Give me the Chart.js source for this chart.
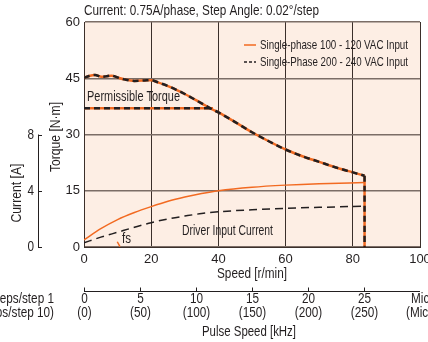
<!DOCTYPE html>
<html>
<head>
<meta charset="utf-8">
<script src="https://cdn.jsdelivr.net/npm/chart.js@4/dist/chart.umd.min.js"></script>
<style>
  html, body { margin: 0; padding: 0; background: #fff; }
  #wrap { width: 428px; height: 342px; }
</style>
</head>
<body>
<div id="wrap"><canvas id="chart" width="428" height="342"></canvas></div>
<script>
/* data */
var speedTicks = [0, 20, 40, 60, 80, 100];
var torqueTicks = [0, 15, 30, 45, 60];
var currentTicks = [0, 4, 8];
var pulseTicks = [0, 5, 10, 15, 20, 25];
var pulseTickLabels = ['(0)', '(50)', '(100)', '(150)', '(200)', '(250)'];

var torqueSpeed = [0, 1.5, 3.3, 5.2, 6.5, 8.2, 10, 12, 15, 18, 20, 22, 25, 27.5, 30, 35, 38.4, 40, 45, 50, 55, 60, 65, 70, 75, 80, 83.5];
var torqueValue = [45.1, 45.6, 45.9, 45.4, 45.5, 45.7, 45.2, 44.7, 44.3, 44.4, 44.5, 43.9, 42.9, 41.9, 40.8, 38.3, 36.6, 35.9, 33.3, 30.6, 28.2, 26.0, 24.2, 22.7, 21.2, 19.9, 19.0];
var dropSpeed = [83.5, 83.5];
var dropValue = [19.0, 0];

var permSpeed = [0, 38.4];
var permValue = [37, 37];

var currentSpeed = [0, 5, 10, 15, 20, 25, 30, 35, 40, 50, 60, 70, 83.5];
var current100 = [0.5, 1.3, 1.95, 2.45, 2.87, 3.25, 3.55, 3.8, 4.0, 4.25, 4.4, 4.5, 4.58];
var current200 = [0.3, 0.7, 1.05, 1.4, 1.73, 2.0, 2.2, 2.38, 2.5, 2.65, 2.75, 2.82, 2.9];

var fsSpeed = [9.9, 10.7];
var fsValue = [1.4, 0.1];

var ORANGE = '#f26a21';
var BLACK = '#231f20';
var FONT = '"Liberation Sans", Arial, sans-serif';

function pts(xs, ys) {
  return xs.map(function (x, i) { return { x: x, y: ys[i] }; });
}

/* condensed text: squeeze horizontally to the width seen in the picture */
function fitText(ctx, text, x, y, align, width, size) {
  ctx.save();
  ctx.font = (size || 13) + 'px ' + FONT;
  var w = ctx.measureText(text).width;
  var k = width ? width / w : 0.84;
  ctx.translate(x, y);
  ctx.scale(k, 1);
  ctx.textAlign = align;
  ctx.textBaseline = 'middle';
  ctx.fillText(text, 0, 0);
  ctx.restore();
}

/* plot background, extra axes and labels */
var extras = {
  id: 'extras',
  beforeDraw: function (chart) {
    var a = chart.chartArea, ctx = chart.ctx;
    ctx.save();
    ctx.fillStyle = '#fdeee4';
    ctx.fillRect(a.left, a.top, a.right - a.left, a.bottom - a.top);
    ctx.restore();
  },
  afterDraw: function (chart) {
    var ctx = chart.ctx, x = chart.scales.x, yc = chart.scales.yCur;
    ctx.save();
    ctx.fillStyle = BLACK;
    ctx.strokeStyle = BLACK;

    // title
    fitText(ctx, 'Current: 0.75A/phase, Step Angle: 0.02\u00b0/step', 84, 11, 'left', 235, 14);

    // legend
    ctx.lineWidth = 1.5;
    ctx.strokeStyle = ORANGE;
    ctx.beginPath(); ctx.moveTo(244, 45); ctx.lineTo(256, 45); ctx.stroke();
    ctx.strokeStyle = BLACK;
    ctx.setLineDash([3, 2]);
    ctx.beginPath(); ctx.moveTo(244, 62); ctx.lineTo(256, 62); ctx.stroke();
    ctx.setLineDash([]);
    fitText(ctx, 'Single-phase 100 - 120 VAC Input', 260, 45, 'left', 148);
    fitText(ctx, 'Single-Phase 200 - 240 VAC Input', 260, 62, 'left', 148);

    // labels inside the plot
    fitText(ctx, 'Permissible Torque', 87, 97, 'left', 93, 14);
    fitText(ctx, 'Driver Input Current', 182, 231, 'left', 91, 14);
    fitText(ctx, 'fs', 122, 239, 'left', 9, 14);

    // speed axis title
    fitText(ctx, 'Speed [r/min]', 252, 274, 'center', 70, 14);

    // torque title
    ctx.save();
    ctx.translate(56, 137);
    ctx.rotate(-Math.PI / 2);
    fitText(ctx, 'Torque [N\u00b7m]', 0, 0, 'center', 70, 14);
    ctx.restore();

    // current axis
    ctx.save();
    ctx.translate(17, 193);
    ctx.rotate(-Math.PI / 2);
    fitText(ctx, 'Current [A]', 0, 0, 'center', 59, 14);
    ctx.restore();
    ctx.lineWidth = 1;
    var top = yc.getPixelForValue(8), bot = yc.getPixelForValue(0);
    ctx.beginPath(); ctx.moveTo(38.5, top); ctx.lineTo(38.5, bot); ctx.stroke();
    currentTicks.forEach(function (v) {
      var py = Math.round(yc.getPixelForValue(v)) + 0.5;
      ctx.beginPath(); ctx.moveTo(38, py); ctx.lineTo(42, py); ctx.stroke();
      fitText(ctx, String(v), 34, py, 'right', null, 14);
    });

    // pulse speed axis (pulse kHz = speed * 0.3)
    var ay = 291.5;
    ctx.beginPath(); ctx.moveTo(x.left, ay); ctx.lineTo(x.right, ay); ctx.stroke();
    pulseTicks.forEach(function (p, i) {
      var px = Math.round(x.getPixelForValue(p / 0.3)) + 0.5;
      ctx.beginPath(); ctx.moveTo(px, ay - 4); ctx.lineTo(px, ay); ctx.stroke();
      fitText(ctx, String(p), px, 299, 'center', null, 14);
      fitText(ctx, pulseTickLabels[i], px, 313, 'center', null, 14);
    });
    fitText(ctx, 'Microsteps/step 1', 54, 299, 'right', null, 14);
    fitText(ctx, '(Microsteps/step 10)', 54, 313, 'right', null, 14);
    fitText(ctx, 'Microsteps/step 1', 411, 299, 'left', null, 14);
    fitText(ctx, '(Microsteps/step 10)', 406, 313, 'left', null, 14);
    fitText(ctx, 'Pulse Speed [kHz]', 249, 332, 'center', 94, 14);
    ctx.restore();
  }
};

var ctx = document.getElementById('chart').getContext('2d');
new Chart(ctx, {
  type: 'line',
  data: {
    datasets: [
      { data: pts(torqueSpeed, torqueValue), borderColor: BLACK, borderWidth: 2.5, borderDash: [6, 4], order: 0 },
      { data: pts(dropSpeed, dropValue), borderColor: BLACK, borderWidth: 2.5, borderDash: [6, 4], tension: 0, order: 0 },
      { data: pts(permSpeed, permValue), borderColor: BLACK, borderWidth: 2.5, borderDash: [6, 4], order: 0 },
      { data: pts(torqueSpeed, torqueValue), borderColor: ORANGE, borderWidth: 2.5, order: 1 },
      { data: pts(dropSpeed, dropValue), borderColor: ORANGE, borderWidth: 2.5, tension: 0, order: 1 },
      { data: pts(permSpeed, permValue), borderColor: ORANGE, borderWidth: 2.5, order: 1 },
      { data: pts(currentSpeed, current200), borderColor: BLACK, borderWidth: 1.5, borderDash: [8, 5], yAxisID: 'yCur', order: 2 },
      { data: pts(currentSpeed, current100), borderColor: ORANGE, borderWidth: 1.5, yAxisID: 'yCur', order: 2 },
      { data: pts(fsSpeed, fsValue), borderColor: ORANGE, borderWidth: 1.5, tension: 0, order: 2 }
    ]
  },
  options: {
    responsive: false,
    animation: false,
    layout: { autoPadding: false, padding: { top: 22, right: 8, left: 0, bottom: 0 } },
    elements: { point: { radius: 0 }, line: { cubicInterpolationMode: 'monotone', fill: false } },
    plugins: { legend: { display: false }, tooltip: { enabled: false } },
    scales: {
      x: {
        type: 'linear', min: 0, max: 100,
        afterFit: function (s) { s.height = 95; s.paddingLeft = 0; s.paddingRight = 0; },
        afterBuildTicks: function (s) { s.ticks = speedTicks.map(function (v) { return { value: v }; }); },
        grid: { color: '#3b2f2a', lineWidth: 1, drawTicks: false },
        border: { color: '#3b2f2a' },
        ticks: { color: BLACK, font: { size: 13, family: FONT }, padding: 5, maxRotation: 0 }
      },
      y: {
        type: 'linear', min: 0, max: 60,
        afterFit: function (s) { s.width = 84; s.paddingTop = 0; s.paddingBottom = 0; },
        afterBuildTicks: function (s) { s.ticks = torqueTicks.map(function (v) { return { value: v }; }); },
        grid: { color: '#7b6d66', lineWidth: 1.5, drawTicks: false },
        border: { color: '#3b2f2a' },
        ticks: { color: BLACK, font: { size: 13, family: FONT }, padding: 4 }
      },
      yCur: { type: 'linear', min: 0, max: 16, display: false }
    }
  },
  plugins: [extras]
});
</script>
</body>
</html>
